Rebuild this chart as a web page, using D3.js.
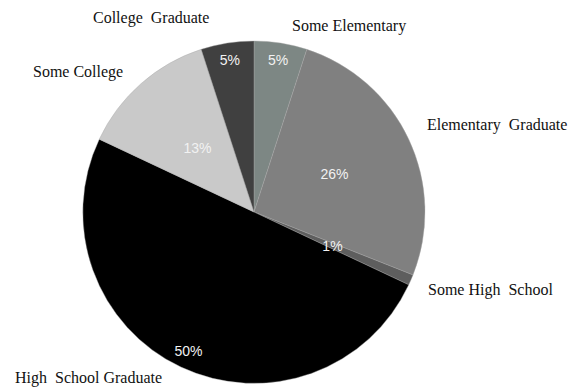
<!DOCTYPE html>
<html>
<head>
<meta charset="utf-8">
<script src="https://cdn.jsdelivr.net/npm/d3@7"></script>
<style>
  html, body { margin: 0; padding: 0; background: #fff; }
  svg { display: block; }
  .cat { font-family: "Liberation Serif", "Times New Roman", serif; font-size: 16px; fill: #111; white-space: pre; }
  .pct { font-family: "Liberation Sans", Arial, sans-serif; font-size: 14px; fill: #f2f2f2; }
</style>
</head>
<body>
<svg id="chart" width="579" height="387"></svg>
<script>
// Data
const categories = ["Some Elementary", "Elementary  Graduate", "Some High  School", "High  School Graduate", "Some College", "College  Graduate"];
const values = [5, 26, 1, 50, 13, 5];
const colors = ["#7d8784", "#808080", "#5e5e5e", "#000000", "#c9c9c9", "#404040"];

// Layout (not data)
const pctRadius = [0.9, 0.52, 0.5, 0.9, 0.5, 0.9];
const catLabelPos = [[292, 31], [427, 130], [428, 295], [15, 383], [33, 77], [93, 23]];

const svg = d3.select("#chart");
const cx = 254, cy = 212, R = 171;
const g = svg.append("g").attr("transform", `translate(${cx},${cy})`);

const pie = d3.pie().sort(null).value(d => d);
const arcs = pie(values);
const arc = d3.arc().innerRadius(0).outerRadius(R);

g.selectAll("path.slice")
  .data(arcs)
  .enter().append("path")
  .attr("class", "slice")
  .attr("d", arc)
  .attr("fill", (d, i) => colors[i])
  .attr("stroke", "#a8a8a8")
  .attr("stroke-width", 0.4);

g.selectAll("text.pct")
  .data(arcs)
  .enter().append("text")
  .attr("class", "pct")
  .attr("text-anchor", "middle")
  .attr("dy", "0.35em")
  .attr("transform", (d, i) => {
    const a = (d.startAngle + d.endAngle) / 2;
    const r = R * pctRadius[i];
    return `translate(${r * Math.sin(a)},${-r * Math.cos(a)})`;
  })
  .text(d => d.value + "%");

svg.selectAll("text.cat")
  .data(categories)
  .enter().append("text")
  .attr("class", "cat")
  .attr("xml:space", "preserve")
  .attr("x", (d, i) => catLabelPos[i][0])
  .attr("y", (d, i) => catLabelPos[i][1])
  .text(d => d);
</script>
</body>
</html>
